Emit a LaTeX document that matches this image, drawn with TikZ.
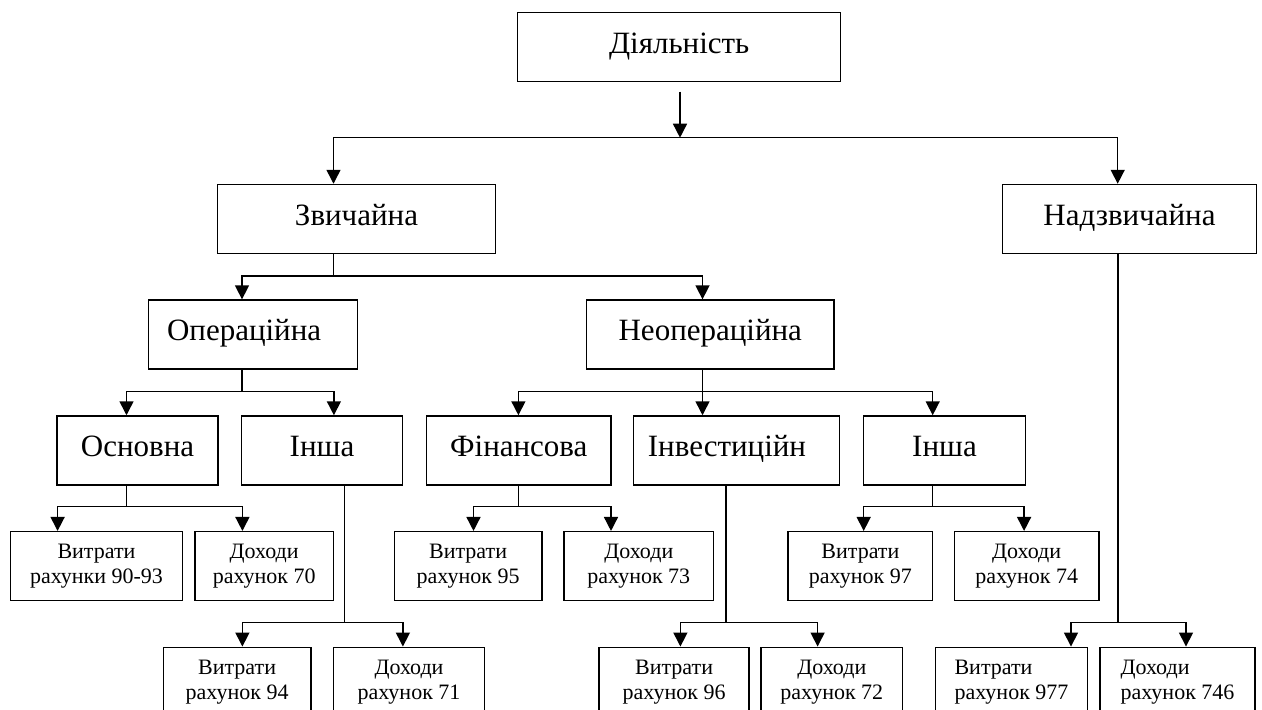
\documentclass[tikz,border=0pt]{standalone}
\usepackage{fontspec}
\setmainfont{Liberation Serif}
\usetikzlibrary{arrows.meta}
\begin{document}
\begin{tikzpicture}[x=1pt,y=-1pt,
  every node/.style={inner sep=0pt},
  bigbox/.style={draw, line width=1.5pt, font=\fontsize{31}{36}\selectfont, text height=22pt, text depth=10pt, minimum height=69pt},
  smallbox/.style={draw, line width=1.5pt, font=\fontsize{22}{25}\selectfont, align=center, minimum height=68.8pt},
  ln/.style={line width=1.5pt},
  arr/.style={line width=1.5pt, -{Triangle[width=14pt,length=14pt]}}]
\useasboundingbox (0,0) rectangle (1262,710);
\fill[white] (0,0) rectangle (1262,710);

% level boxes
\node[bigbox, minimum width=323pt] (act) at (679.2,47.2) {Діяльність};
\node[bigbox, minimum width=278.4pt] (zv) at (356.5,219) {Звичайна};
\node[bigbox, minimum width=253.6pt] (nzv) at (1129.5,219) {Надзвичайна};
\node[bigbox, minimum width=209pt] (op) at (253.1,334.6) {Операційна\kern18pt};
\node[bigbox, minimum width=247.3pt] (nop) at (710.3,334.6) {Неопераційна};
\node[bigbox, minimum width=160.9pt] (osn) at (137.6,450.5) {Основна};
\node[bigbox, minimum width=160.8pt] (ins1) at (322,450.5) {Інша};
\node[bigbox, minimum width=184.5pt] (fin) at (518.8,450.5) {Фінансова};
\node[bigbox, minimum width=206.1pt] (inv) at (736.5,450.5) {Інвестиційн\kern19pt};
\node[bigbox, minimum width=161.6pt] (ins2) at (944.5,450.5) {Інша};

% accounts, upper row
\node[smallbox, minimum width=172pt] (v1) at (96.5,566.1) {Витрати\\рахунки 90-93};
\node[smallbox, minimum width=138.3pt] (d1) at (264.2,566.1) {Доходи\\рахунок 70};
\node[smallbox, minimum width=147.7pt] (v2) at (468.1,566.1) {Витрати\\рахунок 95};
\node[smallbox, minimum width=149.4pt] (d2) at (638.8,566.1) {Доходи\\рахунок 73};
\node[smallbox, minimum width=144.5pt] (v3) at (860.4,566.1) {Витрати\\рахунок 97};
\node[smallbox, minimum width=144.1pt] (d3) at (1026.7,566.1) {Доходи\\рахунок 74};

% accounts, lower row
\node[smallbox, minimum width=147.7pt] (v4) at (237.1,681.7) {Витрати\\рахунок 94};
\node[smallbox, minimum width=151pt] (d4) at (409,681.7) {Доходи\\рахунок 71};
\node[smallbox, minimum width=149.8pt] (v5) at (674.1,681.7) {Витрати\\рахунок 96};
\node[smallbox, minimum width=141.2pt] (d5) at (831.8,681.7) {Доходи\\рахунок 72};
\node[smallbox, minimum width=151.6pt, align=left] (v6) at (1011.5,681.7) {Витрати\\рахунок 977};
\node[smallbox, minimum width=155pt, align=left] (d6) at (1177.5,681.7) {Доходи\\рахунок 746};

% top split
\coordinate (t0) at (680,91.7);
\coordinate (t1) at (680,137.7);
\coordinate (tL) at (333.5,137.7);
\coordinate (tR) at (1117.7,137.7);
\draw[arr] (t0) -- (t1);
\draw[arr] (t1) -- (tL) -- (zv.north -| tL);
\draw[arr] (t1) -- (tR) -- (nzv.north -| tR);

% Звичайна split
\coordinate (zs) at (333.5,276);
\coordinate (zL) at (242,276);
\coordinate (zR) at (702.5,276);
\draw[ln] (zv.south -| zs) -- (zs);
\draw[arr] (zs) -- (zL) -- (op.north -| zL);
\draw[arr] (zs) -- (zR) -- (nop.north -| zR);

% Операційна split
\coordinate (os) at (242,391.7);
\coordinate (oL) at (126.5,391.7);
\coordinate (oR) at (333.9,391.7);
\draw[ln] (op.south -| os) -- (os);
\draw[arr] (os) -- (oL) -- (osn.north -| oL);
\draw[arr] (os) -- (oR) -- (ins1.north -| oR);

% Неопераційна split
\coordinate (ns) at (702.5,391.7);
\coordinate (nL) at (518.4,391.7);
\coordinate (nR) at (932.7,391.7);
\draw[arr] (nop.south -| ns) -- (inv.north -| ns);
\draw[arr] (ns) -- (nL) -- (fin.north -| nL);
\draw[arr] (ns) -- (nR) -- (ins2.north -| nR);

% Основна split
\coordinate (s1) at (126.5,506.7);
\coordinate (s1L) at (57.6,506.7);
\coordinate (s1R) at (242.4,506.7);
\draw[ln] (osn.south -| s1) -- (s1);
\draw[arr] (s1) -- (s1L) -- (v1.north -| s1L);
\draw[arr] (s1) -- (s1R) -- (d1.north -| s1R);

% Фінансова split
\coordinate (s2) at (518.4,506.7);
\coordinate (s2L) at (473.5,506.7);
\coordinate (s2R) at (611,506.7);
\draw[ln] (fin.south -| s2) -- (s2);
\draw[arr] (s2) -- (s2L) -- (v2.north -| s2L);
\draw[arr] (s2) -- (s2R) -- (d2.north -| s2R);

% Інша (2) split
\coordinate (s3) at (932.7,506.7);
\coordinate (s3L) at (863.7,506.7);
\coordinate (s3R) at (1024.1,506.7);
\draw[ln] (ins2.south -| s3) -- (s3);
\draw[arr] (s3) -- (s3L) -- (v3.north -| s3L);
\draw[arr] (s3) -- (s3R) -- (d3.north -| s3R);

% Інша (1) split
\coordinate (s4) at (344.6,622.7);
\coordinate (s4L) at (242.4,622.7);
\coordinate (s4R) at (402.9,622.7);
\draw[ln] (ins1.south -| s4) -- (s4);
\draw[arr] (s4) -- (s4L) -- (v4.north -| s4L);
\draw[arr] (s4) -- (s4R) -- (d4.north -| s4R);

% Інвестиційн split
\coordinate (s5) at (726.1,622.7);
\coordinate (s5L) at (680.4,622.7);
\coordinate (s5R) at (817.6,622.7);
\draw[ln] (inv.south -| s5) -- (s5);
\draw[arr] (s5) -- (s5L) -- (v5.north -| s5L);
\draw[arr] (s5) -- (s5R) -- (d5.north -| s5R);

% Надзвичайна split
\coordinate (s6) at (1118,622.7);
\coordinate (s6L) at (1071,622.7);
\coordinate (s6R) at (1186,622.7);
\draw[ln] (nzv.south -| s6) -- (s6);
\draw[arr] (s6) -- (s6L) -- (v6.north -| s6L);
\draw[arr] (s6) -- (s6R) -- (d6.north -| s6R);
\end{tikzpicture}
\end{document}
